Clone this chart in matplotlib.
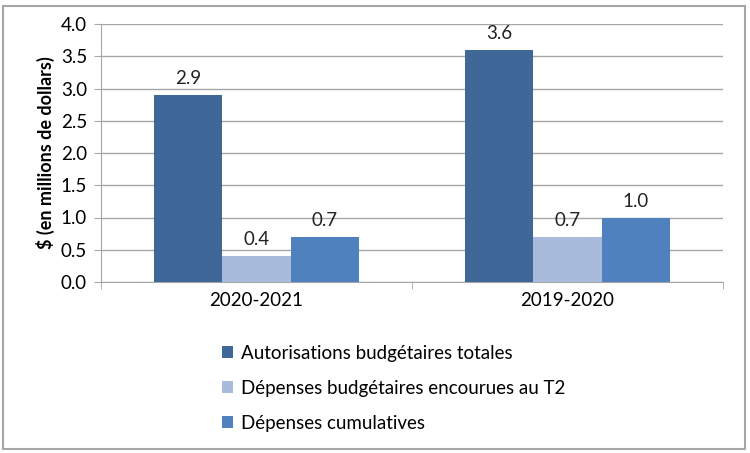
import matplotlib
matplotlib.use("Agg")
import matplotlib.pyplot as plt
import numpy as np
from matplotlib.patches import Rectangle

plt.rcParams['font.family'] = ['Lato', 'DejaVu Sans']

categories = ["2020-2021", "2019-2020"]
series_names = ["Autorisations budgétaires totales",
                "Dépenses budgétaires encourues au T2",
                "Dépenses cumulatives"]
autorisations = [2.9, 3.6]
depenses_t2 = [0.4, 0.7]
cumulatives = [0.7, 1.0]
colors = ["#3F6898", "#A9BBDB", "#4F81BF"]
yticks = [0.0, 0.5, 1.0, 1.5, 2.0, 2.5, 3.0, 3.5, 4.0]

fig = plt.figure(figsize=(7.5, 4.53), dpi=100)
ax = fig.add_axes([101/750, 1-282/453, (723-101)/750, (282-24)/453])

x = np.arange(len(categories))
w = 0.22
handles = []
for i, (vals, c, name) in enumerate(zip([autorisations, depenses_t2, cumulatives], colors, series_names)):
    b = ax.bar(x + (i-1)*w, vals, width=w, color=c, label=name, zorder=3)
    handles.append(b)
    for xi, v in zip(x + (i-1)*w, vals):
        ax.text(xi, v + 0.12, f"{v:.1f}", ha='center', va='bottom', fontsize=13.5, color='#222222')

ax.set_xlim(-0.5, 1.5)
ax.set_ylim(0, 4.0)
ax.set_yticks(yticks)
ax.set_yticklabels([f"{t:.1f}" for t in yticks], fontsize=13.5)
ax.yaxis.grid(True, color='#A6A6A6', linewidth=1, zorder=0)
ax.set_xticks(x)
ax.set_xticklabels(categories, fontsize=13.5)
ax.set_xticks([-0.5, 0.5, 1.5], minor=True)
ax.tick_params(axis='x', which='major', length=0, pad=7)
ax.tick_params(axis='x', which='minor', length=5, color='#A6A6A6')
ax.tick_params(axis='y', length=5, color='#A6A6A6', pad=5)
for s in ['top', 'right']:
    ax.spines[s].set_visible(False)
ax.spines['left'].set_color('#A6A6A6')
ax.spines['bottom'].set_color('#A6A6A6')
ax.set_ylabel("$ (en millions de dollars)", fontsize=13, fontweight='bold', labelpad=4)

fig.legend(handles=handles, labels=series_names, loc='upper left',
           bbox_to_anchor=(205/750, 1-328/453), frameon=False, fontsize=13.5,
           handlelength=0.6, handleheight=0.6, handletextpad=0.4, labelspacing=0.95)

fig.patches.append(Rectangle((3/750, 4/453), 742/750, 443/453, transform=fig.transFigure,
                             fill=False, edgecolor='#A6A6A6', linewidth=1.5))

fig.savefig("out.png", dpi=100)
